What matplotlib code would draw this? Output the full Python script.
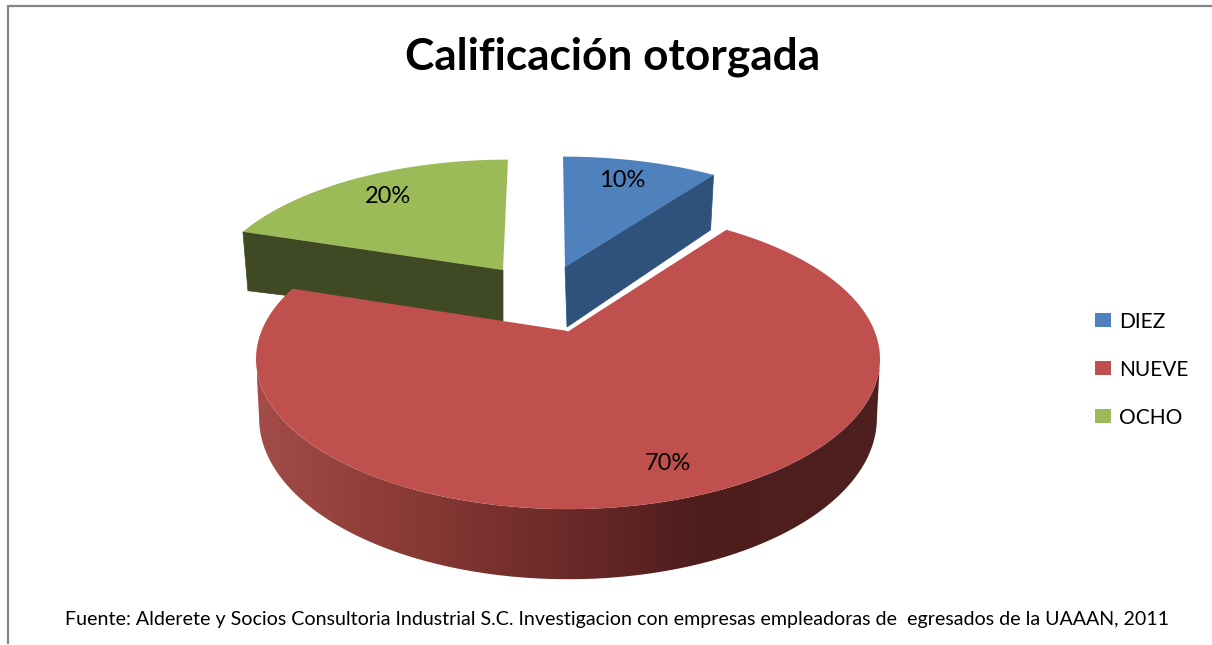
import numpy as np
import matplotlib
matplotlib.use('Agg')
import matplotlib.pyplot as plt
from matplotlib.colors import LinearSegmentedColormap
from matplotlib.patches import Polygon, Rectangle

categorias = ['DIEZ', 'NUEVE', 'OCHO']
valores = [10, 70, 20]
etiquetas = ['10%', '70%', '20%']
titulo = 'Calificación otorgada'
fuente = ('Fuente: Alderete y Socios Consultoria Industrial S.C. Investigacion con '
          'empresas empleadoras de  egresados de la UAAAN, 2011')

colores = ['#4f81bd', '#c0504d', '#9bbb59']
colores_pared = ['#2f527d', '#4c1e1d', '#3f4923']

# vertice de cada rebanada y su escala/sesgo en pantalla (pixeles)
vertices = [(565, 267), (568, 331), (503, 270)]
escalas_x = [0.96, 1.0, 0.95]
escalas_y = [0.905, 1.0, 0.905]
sesgos = [0.018, 0.0, -0.045]
pos_etiquetas = [(622, 180.5), (668, 463), (388, 196.5)]

K = 0.187
RX = 306.5
RY = 144.8


def proyectar(theta, i):
    # circulo a pantalla con perspectiva, theta en grados desde las 12
    t = np.radians(theta)
    u, v = np.sin(t), np.cos(t)
    w = 1 + K * v
    dy = escalas_y[i] * RY * v / w
    dx = escalas_x[i] * RX * u / w
    return vertices[i][0] + dx - sesgos[i] * dy, vertices[i][1] - dy


def caida(theta, base=57.0):
    return base / (1 + K * np.cos(np.radians(theta)))


def pared_roja(ax, ini, fin):
    # pared exterior: degradado horizontal recortado con la forma de la pared
    anclas = [(0.0, '#a34c49'), (0.22, '#8c3b36'), (0.50, '#6b2a29'), (0.71, '#4d1d1c'), (1.0, '#4d201f')]
    cmap = LinearSegmentedColormap.from_list('pared', anclas)
    angulos = np.linspace(ini, fin, 300)
    xs, ys = proyectar(angulos, 1)
    xs2 = 568 + (xs - 568) * 0.99
    ys2 = ys + caida(angulos)
    puntos = list(zip(xs, ys)) + list(zip(xs2[::-1], ys2[::-1]))
    forma = Polygon(puntos, closed=True, fc='none', ec='none', transform=ax.transData)
    ax.add_patch(forma)
    img = ax.imshow(np.linspace(0, 1, 256).reshape(1, -1), extent=[257, 880, 600, 340], aspect='auto',
                    cmap=cmap, vmin=0, vmax=1, zorder=2, interpolation='bilinear')
    img.set_clip_path(forma)


fig = plt.figure(figsize=(12.12, 6.45), dpi=100)
ax = fig.add_axes([0, 0, 1, 1])
plt.rcParams['font.family'] = ['Lato', 'DejaVu Sans']

# marco
ax.plot([8, 8, 1212], [643, 5.5, 5.5], color='#868686', lw=1.6, solid_joinstyle='miter', zorder=1)

# angulos a partir de los valores
cortes = np.concatenate([[0], np.cumsum(valores)]) * 360.0 / sum(valores)

for i in [0, 2, 1]:
    ini, fin = cortes[i], cortes[i + 1]
    vert = vertices[i]
    angulos = np.linspace(ini, fin, 200)
    xs, ys = proyectar(angulos, i)
    if i == 1:
        # solo la parte visible, entre los extremos laterales de la elipse
        pared_roja(ax, 100.8, 259.2)
    else:
        lado = fin if i == 0 else ini
        xr, yr = proyectar(lado, i)
        d_r = 55 if i == 0 else 59
        d_a = 60 if i == 0 else 52
        pared = [vert, (xr, yr), (xr + (-3 if i == 0 else 5), yr + d_r), (vert[0] + (2 if i == 0 else 0), vert[1] + d_a)]
        ax.add_patch(Polygon(pared, closed=True, fc=colores_pared[i], ec=colores_pared[i], lw=0.5, zorder=2))
    puntos = [vert] + list(zip(xs, ys))
    ax.add_patch(Polygon(puntos, closed=True, fc=colores[i], ec='none', zorder=3))
    if i == 1:
        # filo blanco junto a la rebanada azul
        ax.plot([vert[0], xs[0] + 2], [vert[1] - 1, ys[0] - 1], color='white', lw=1.8, zorder=3)

for i in range(3):
    ax.text(pos_etiquetas[i][0], pos_etiquetas[i][1], etiquetas[i], ha='center', va='center',
            fontsize=17, color='black', zorder=4)

ax.text(613, 57, titulo, ha='center', va='center', fontsize=31.8, fontweight='bold', color='black')
ax.text(617, 620, fuente, ha='center', va='center', fontsize=14.1, color='black')

# leyenda
for i, (cat, y) in enumerate(zip(categorias, [320, 368, 416])):
    ax.add_patch(Rectangle((1095, y - 7), 16, 14, fc=colores[i], ec='none'))
    ax.text(1119, y + 2, cat, ha='left', va='center', fontsize=15, color='black')

ax.set_xlim(0, 1212)
ax.set_ylim(645, 0)
ax.axis('off')
fig.savefig('out.png', dpi=100)
